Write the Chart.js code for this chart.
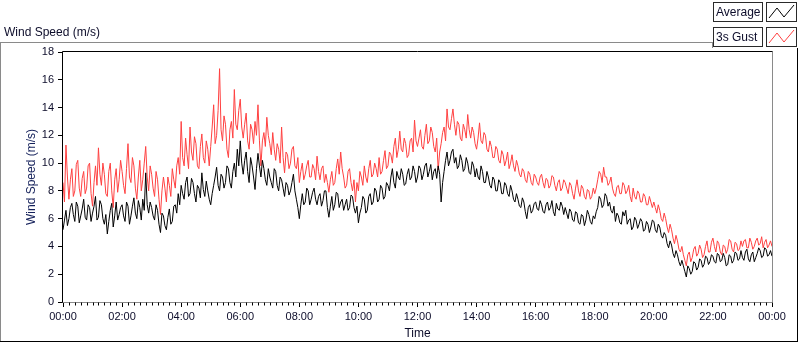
<!DOCTYPE html>
<html lang="en">
<head>
<meta charset="UTF-8">
<title>Wind Speed (m/s)</title>
<script src="https://cdn.jsdelivr.net/npm/chart.js@4"></script>
<style>
    body {
        margin: 0;
        background-color: #fff;
    }
    #wrap {
        position: relative;
        width: 800px;
        height: 342px;
    }
</style>
</head>
<body>
<div id="wrap"><canvas id="windChart" width="800" height="342"></canvas></div>

<script>
    // one reading every 3 minutes, 00:00 -> 24:00 (one row per hour)
    const average = [
        5.2, 5.9, 6.6, 5.5, 6.0, 6.8, 7.1, 6.3, 5.8, 7.2, 6.9, 5.7, 6.2, 6.7, 7.4, 6.1, 5.9, 7.0, 6.8, 5.8,
        6.4, 6.9, 7.6, 5.9, 6.1, 7.3, 7.0, 6.0, 5.6, 6.3, 4.9, 5.8, 6.6, 7.1, 5.4, 6.2, 7.2, 5.9, 6.3, 6.8,
        7.0, 6.2, 5.8, 7.2, 6.9, 5.6, 6.2, 6.9, 7.5, 6.4, 6.0, 7.3, 6.8, 5.9, 7.4, 6.6, 9.3, 7.0, 6.4, 7.2,
        6.8, 6.2, 5.9, 7.0, 6.6, 5.6, 5.0, 6.4, 6.2, 5.5, 5.2, 6.1, 6.7, 5.6, 5.8, 6.9, 7.0, 6.4, 7.8, 7.0,
        8.4, 7.8, 7.4, 8.6, 9.0, 7.6, 7.8, 8.9, 8.6, 7.8, 7.2, 8.4, 8.2, 7.5, 9.3, 8.1, 7.6, 8.7, 8.0, 7.4,
        7.0, 7.8, 8.4, 9.0, 9.7, 8.4, 8.0, 9.2, 9.0, 8.2, 8.6, 9.8, 9.6, 8.6, 8.2, 9.4, 10.0, 9.0, 11.0, 9.8,
        11.6, 10.0, 9.2, 10.2, 10.8, 9.4, 8.6, 10.4, 9.8, 9.0, 8.1, 9.6, 10.7, 9.8, 9.0, 10.2, 9.6, 8.8, 8.4, 9.6,
        9.0, 8.6, 8.2, 9.6, 9.4, 8.4, 8.0, 9.0, 8.8, 8.2, 7.6, 8.6, 8.4, 7.7, 8.0, 8.6, 9.2, 8.0, 7.4, 6.8,
        6.0, 7.0, 7.8, 7.0, 7.2, 8.2, 8.0, 7.0, 7.4, 7.9, 8.2, 7.4, 7.0, 7.6, 7.8, 6.9, 7.3, 8.0, 8.0, 6.8,
        6.1, 6.9, 7.6, 6.6, 7.0, 7.9, 7.8, 6.8, 7.2, 7.4, 6.6, 7.0, 7.4, 6.6, 6.8, 7.7, 7.6, 6.8, 6.4, 6.9,
        5.7, 6.4, 6.8, 7.6, 7.4, 6.4, 6.6, 7.6, 7.8, 7.0, 7.2, 8.2, 8.0, 7.2, 7.4, 8.4, 8.2, 7.4, 7.6, 8.6,
        8.4, 8.0, 9.0, 9.6, 8.6, 8.2, 9.4, 9.0, 8.8, 9.6, 9.2, 8.4, 8.5, 9.2, 9.6, 8.8, 9.0, 9.8, 9.4, 8.6,
        9.0, 9.8, 9.6, 8.8, 9.2, 9.8, 10.0, 9.0, 9.4, 9.9, 8.8, 9.4, 9.6, 8.9, 9.8, 9.2, 7.2, 8.6, 9.4, 10.2,
        10.8, 9.8, 10.2, 10.8, 11.0, 10.0, 10.4, 9.6, 9.8, 10.6, 10.2, 9.4, 9.6, 10.4, 10.0, 9.3, 9.2, 10.1, 9.8, 9.0,
        9.6, 9.0, 8.8, 9.8, 9.4, 8.6, 8.6, 9.4, 9.0, 8.4, 8.2, 9.0, 8.8, 8.0, 8.0, 8.8, 8.6, 7.8, 7.8, 8.6,
        8.4, 7.8, 7.6, 8.4, 8.0, 7.4, 7.2, 7.8, 7.4, 6.9, 6.8, 7.5, 7.2, 6.5, 6.0, 6.8, 7.0, 6.4, 6.6, 7.1,
        7.2, 6.7, 6.6, 7.3, 7.0, 6.5, 6.4, 7.0, 7.2, 6.6, 6.8, 7.3, 6.5, 6.2, 7.1, 6.7, 6.6, 7.2, 6.9, 6.3,
        6.8, 6.4, 6.0, 6.7, 6.5, 5.9, 5.8, 6.5, 6.4, 5.7, 5.6, 6.3, 6.2, 5.5, 5.9, 6.6, 6.3, 5.8, 5.6, 6.2,
        6.0, 6.5, 6.8, 7.6, 7.4, 6.8, 7.0, 7.8, 7.6, 6.9, 7.2, 6.6, 6.4, 6.9, 5.8, 6.4, 6.2, 5.7, 5.6, 6.5,
        6.2, 6.6, 5.6, 5.9, 6.0, 5.2, 5.4, 6.1, 5.9, 5.3, 5.6, 6.0, 5.8, 5.1, 5.2, 5.8, 5.6, 5.0, 5.4, 5.9,
        5.8, 5.2, 5.0, 5.6, 5.4, 4.8, 4.6, 5.0, 4.8, 4.2, 3.9, 4.4, 4.1, 3.5, 3.2, 3.7, 3.4, 2.9, 2.6, 3.0,
        2.6, 2.2, 1.8, 2.6, 2.4, 2.0, 2.2, 2.9, 2.8, 2.3, 2.5, 3.1, 3.0, 2.5, 2.7, 3.3, 3.2, 2.7, 2.9, 3.4,
        3.3, 2.9, 2.8, 3.5, 3.4, 2.9, 3.0, 3.5, 3.2, 2.6, 2.7, 3.4, 3.3, 2.8, 3.0, 3.6, 3.5, 3.0, 3.1, 3.7,
        3.2, 3.0, 3.6, 3.8, 3.1, 2.9, 3.4, 3.6, 2.9, 3.2, 3.5, 3.9, 3.7, 3.2, 3.3, 3.9, 3.8, 3.3, 3.4, 3.7,
        3.3
    ];
    const gust = [
        8.6, 7.2, 11.3, 9.0, 7.4, 8.8, 9.6, 7.6, 8.0, 9.9, 10.2, 8.2, 7.6, 8.9, 9.4, 7.8, 8.2, 9.8, 10.0, 7.8,
        6.9, 8.6, 9.8, 8.4, 11.1, 9.2, 8.4, 10.0, 9.2, 7.8, 7.6, 9.4, 10.0, 8.0, 6.8, 8.8, 9.6, 7.9, 8.8, 10.2,
        9.4, 8.4, 7.8, 9.6, 11.4, 9.0, 8.6, 10.4, 9.8, 8.2, 7.4, 9.0, 10.2, 8.0, 8.8, 10.0, 11.2, 9.0, 8.0, 9.8,
        9.2, 8.2, 7.6, 9.4, 8.8, 7.4, 6.3, 8.0, 9.0, 8.2, 7.2, 9.0, 8.4, 7.6, 9.6, 8.8, 8.2, 9.8, 10.4, 9.2,
        13.0, 10.4, 9.8, 11.8, 10.6, 9.6, 12.6, 10.8, 10.2, 11.9, 11.4, 9.8, 9.6, 11.2, 12.1, 10.4, 10.0, 11.6, 11.0, 9.8,
        11.2, 12.6, 14.2, 11.4, 12.0, 13.8, 16.8, 12.4, 11.6, 13.4, 12.8, 11.0, 10.4, 12.4, 13.0, 11.8, 15.3, 12.8, 12.4, 13.8,
        14.6, 12.6, 11.8, 12.8, 13.6, 11.6, 11.0, 12.8, 12.4, 11.4, 13.0, 12.0, 14.2, 11.6, 9.8, 11.6, 12.2, 11.2, 13.3, 12.0,
        11.4, 10.6, 12.2, 11.0, 10.2, 11.4, 11.0, 10.0, 12.6, 10.4, 9.3, 10.8, 10.6, 9.6, 10.0, 11.0, 11.2, 9.8, 9.6, 10.4,
        8.6, 9.4, 10.0, 8.8, 9.2, 9.8, 10.2, 9.0, 9.0, 9.9, 9.6, 8.8, 10.5, 9.4, 8.8, 9.6, 9.8, 8.6, 9.2, 8.6,
        7.9, 8.8, 9.4, 8.4, 8.6, 9.6, 10.3, 9.2, 10.8, 9.6, 9.0, 8.2, 8.4, 9.4, 9.6, 8.6, 8.0, 8.8, 7.2, 8.6,
        8.0, 9.4, 9.0, 8.4, 9.8, 9.0, 8.6, 9.6, 10.2, 9.0, 9.2, 10.0, 9.6, 9.0, 10.4, 9.2, 9.4, 10.2, 10.9, 9.6,
        9.8, 10.8, 10.6, 10.0, 11.2, 11.8, 10.4, 11.0, 12.3, 11.0, 10.8, 11.8, 11.4, 10.4, 10.6, 11.6, 11.8, 10.8, 13.1, 11.6,
        11.2, 11.8, 12.4, 11.2, 11.0, 12.0, 12.8, 11.4, 11.6, 12.6, 12.2, 11.2, 10.8, 11.8, 9.5, 10.8, 11.4, 12.2, 12.6, 11.6,
        13.9, 12.6, 12.4, 13.2, 13.9, 12.8, 12.0, 13.0, 12.8, 11.8, 11.6, 12.8, 12.4, 11.8, 13.5, 12.4, 11.8, 12.6, 12.2, 11.4,
        11.0, 11.8, 12.9, 11.6, 11.4, 12.2, 12.0, 11.0, 10.8, 11.6, 11.2, 10.4, 10.4, 11.2, 11.0, 10.2, 10.0, 10.9, 10.6, 9.8,
        10.2, 10.8, 9.6, 10.0, 10.6, 9.8, 9.4, 10.2, 9.8, 9.2, 9.0, 9.6, 9.4, 8.8, 8.6, 9.4, 9.2, 8.6, 8.4, 9.2,
        9.0, 8.6, 8.4, 9.0, 9.2, 8.6, 8.2, 8.9, 8.8, 8.2, 8.4, 9.1, 9.0, 8.4, 8.0, 8.6, 8.8, 8.0, 8.2, 8.8,
        8.6, 8.2, 7.8, 8.6, 8.4, 7.8, 7.4, 8.2, 8.8, 8.0, 7.6, 8.4, 8.2, 7.6, 7.4, 8.1, 8.0, 7.4, 7.6, 8.2,
        7.8, 8.2, 8.8, 9.4, 9.2, 8.6, 9.7, 9.0, 9.0, 8.4, 8.6, 9.0, 8.2, 7.8, 7.6, 8.3, 8.4, 7.8, 7.8, 8.6,
        8.4, 7.8, 8.0, 8.4, 7.6, 7.2, 8.2, 7.6, 7.4, 8.0, 7.8, 7.2, 7.2, 7.8, 7.6, 7.0, 7.0, 7.6, 7.2, 6.8,
        7.2, 6.8, 6.4, 7.0, 6.6, 6.0, 5.8, 6.4, 6.0, 5.4, 5.0, 5.6, 5.2, 4.6, 4.2, 4.8, 4.4, 3.8, 3.6, 4.0,
        3.4, 3.0, 2.6, 3.4, 3.6, 2.9, 3.2, 3.8, 4.0, 3.3, 3.5, 4.1, 3.8, 3.2, 3.4, 4.0, 4.4, 3.6, 3.6, 4.3,
        4.6, 4.0, 3.6, 4.4, 4.2, 3.6, 3.4, 4.1, 4.0, 3.5, 3.8, 4.5, 4.4, 3.8, 3.6, 4.3, 4.2, 3.7, 3.8, 4.4,
        4.0, 4.4, 4.5, 3.9, 3.9, 4.6, 4.3, 3.8, 4.0, 4.4, 4.6, 4.1, 4.2, 4.7, 3.9, 4.3, 4.5, 3.9, 4.1, 4.4,
        4.0
    ];
    const timeLabels = ['00:00', '02:00', '04:00', '06:00', '08:00', '10:00', '12:00',
                        '14:00', '16:00', '18:00', '20:00', '22:00', '00:00'];
    const seriesNames = ['Average', '3s Gust'];
    const seriesColors = ['#000000', '#ff4040'];

    const textColor = '#0c0c2a';
    Chart.defaults.font.family = '"Liberation Sans", Arial, sans-serif';

    // x position in hours for each reading
    const hours = average.map((v, i) => i / 20);

    // LabVIEW style frame, minor ticks, top title and legend
    const framePlugin = {
        id: 'frame',
        afterDraw(chart) {
            const ctx = chart.ctx;
            const area = chart.chartArea;
            const xs = chart.scales.x;
            ctx.save();
            ctx.lineWidth = 1;

            function line(x1, y1, x2, y2, color) {
                ctx.strokeStyle = color;
                ctx.beginPath();
                ctx.moveTo(x1, y1);
                ctx.lineTo(x2, y2);
                ctx.stroke();
            }

            // outer panel
            line(0, 42.5, 712, 42.5, '#8a8a8a');
            line(0.5, 42, 0.5, 342, '#8a8a8a');
            line(712.5, 42, 712.5, 48, '#8a8a8a');
            line(0, 341.5, 798, 341.5, '#000');
            line(797.5, 48, 797.5, 342, '#000');

            // plot box
            const l = Math.round(area.left) - 0.5;
            const t = Math.round(area.top) - 0.5;
            const r = Math.round(area.right) + 0.5;
            const b = Math.round(area.bottom) + 0.5;
            line(l, b, r, b, '#8a8a8a');
            line(r, t, r, b, '#8a8a8a');
            line(l, t, r, t, '#000');
            line(l, t, l, b, '#000');

            // minor ticks every 12 minutes
            for (let k = 0; k <= 120; k++) {
                if (k % 10 === 0) continue;
                const px = Math.round(xs.getPixelForValue(k / 5)) + 0.5;
                line(px, b, px, b + 3, '#000');
            }

            // title
            ctx.fillStyle = textColor;
            ctx.font = '12px "Liberation Sans", Arial, sans-serif';
            ctx.textBaseline = 'alphabetic';
            ctx.textAlign = 'left';
            ctx.fillText('Wind Speed (m/s)', 4, 36);

            // legend
            chart.data.datasets.forEach((ds, i) => {
                const y = 2 + i * 25;
                ctx.strokeStyle = '#2a2a2a';
                ctx.strokeRect(713.5, y + 0.5, 49, 19);
                ctx.strokeRect(766.5, y + 0.5, 30, 19);
                ctx.fillStyle = textColor;
                ctx.textBaseline = 'middle';
                ctx.fillText(ds.label, 716, y + 10.5);
                ctx.strokeStyle = ds.borderColor;
                ctx.beginPath();
                ctx.moveTo(769, y + 16);
                ctx.lineTo(777, y + 6);
                ctx.lineTo(784, y + 15);
                ctx.lineTo(794, y + 3);
                ctx.stroke();
            });
            ctx.restore();
        }
    };

    const ctx = document.getElementById('windChart').getContext('2d');
    const windChart = new Chart(ctx, {
        type: 'line',
        data: {
            datasets: [
                {
                    label: seriesNames[0],
                    data: average.map((v, i) => ({ x: hours[i], y: v })),
                    borderColor: seriesColors[0],
                    borderWidth: 1,
                    pointRadius: 0,
                    tension: 0,
                    fill: false
                },
                {
                    label: seriesNames[1],
                    data: gust.map((v, i) => ({ x: hours[i], y: v })),
                    borderColor: seriesColors[1],
                    borderWidth: 1,
                    pointRadius: 0,
                    tension: 0,
                    fill: false
                }
            ]
        },
        options: {
            responsive: false,
            animation: false,
            devicePixelRatio: 1,
            layout: {
                padding: { left: 0, right: 28, top: 52, bottom: 0 }
            },
            plugins: {
                legend: { display: false },
                tooltip: { enabled: false }
            },
            scales: {
                x: {
                    type: 'linear',
                    min: 0,
                    max: 24,
                    afterFit: (scale) => { scale.height = 40; },
                    ticks: {
                        stepSize: 2,
                        padding: 3,
                        maxRotation: 0,
                        autoSkip: false,
                        color: textColor,
                        font: { size: 11 },
                        callback: (v) => timeLabels[v / 2]
                    },
                    grid: {
                        drawOnChartArea: false,
                        tickLength: 5,
                        color: '#000'
                    },
                    border: { display: false },
                    title: {
                        display: true,
                        text: 'Time',
                        color: textColor,
                        font: { size: 12 },
                        padding: { top: 0, bottom: 1 }
                    }
                },
                y: {
                    min: 0,
                    max: 18,
                    afterFit: (scale) => { scale.width = 63; },
                    ticks: {
                        stepSize: 2,
                        padding: 4,
                        color: textColor,
                        font: { size: 11 }
                    },
                    grid: {
                        drawOnChartArea: false,
                        tickLength: 5,
                        color: '#000'
                    },
                    border: { display: false },
                    title: {
                        display: true,
                        text: 'Wind Speed (m/s)',
                        color: '#14205a',
                        font: { size: 12 },
                        padding: { top: 24, bottom: 0 }
                    }
                }
            }
        },
        plugins: [framePlugin]
    });
</script>
</body>
</html>
